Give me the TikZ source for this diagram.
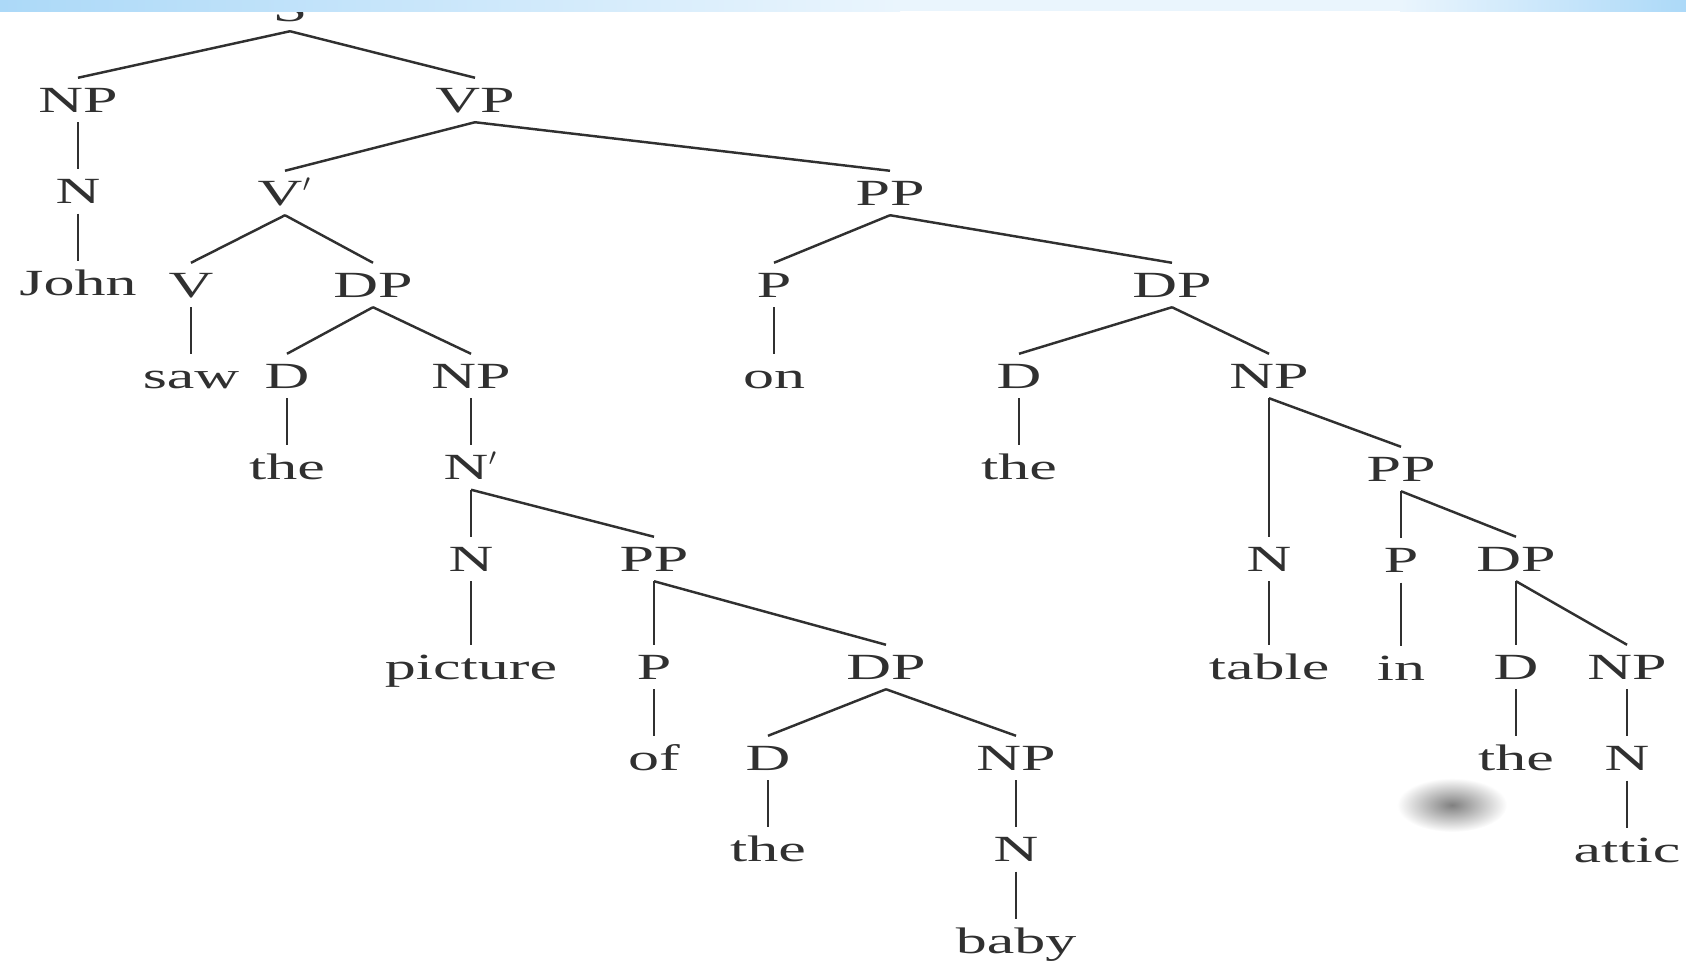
\documentclass[tikz,border=0pt]{standalone}
\usepackage{fontspec}
\setmainfont{Liberation Serif}[FakeStretch=1.68]
\usetikzlibrary{positioning}
\definecolor{ink}{RGB}{48,48,48}
\definecolor{bandblue}{RGB}{172,217,248}
\definecolor{bandpale}{RGB}{234,245,253}

\begin{document}
\begin{tikzpicture}[node distance=0.915cm,color=ink,line width=0.7pt,
		                    cat/.style={inner xsep=0pt,inner ysep=0.09cm,text height=0.24cm,text depth=0pt,font=\fontsize{10.5}{12}\selectfont}]
			\useasboundingbox (0,0) rectangle (16.86,-9.64);
			% Nodes
			  \node[cat] (S) at (2.90,-0.09) {S};
			  \node[cat] (NPa) at (0.78,-1.00) {NP};
			  \node[cat] (Na) [below of = NPa] {N};
			  \node[cat] (John) [below of = Na] {John};
			  \node[cat] (VP) at (4.75,-1.00) {VP};
			  \node[cat] (Vbar) at (2.85,-1.93) {V$'$};
			  \node[cat] (V) at (1.91,-2.85) {V};
			  \node[cat] (saw) [below of = V] {saw};
			  \node[cat] (DPa) at (3.73,-2.85) {DP};
			  \node[cat] (Da) at (2.87,-3.76) {D};
			  \node[cat] (thea) [below of = Da] {the};
			  \node[cat] (NPb) at (4.71,-3.76) {NP};
			  \node[cat] (Nbar) [below of = NPb] {N$'$};
			  \node[cat] (Nb) [below of = Nbar] {N};
			  \node[cat] (picture) [below of = Nb, node distance=1.08cm] {picture};
			  \node[cat] (PPb) at (6.54,-5.59) {PP};
			  \node[cat] (Pb) [below of = PPb, node distance=1.08cm] {P};
			  \node[cat] (of) [below of = Pb] {of};
			  \node[cat] (DPc) at (8.86,-6.67) {DP};
			  \node[cat] (Dc) at (7.68,-7.58) {D};
			  \node[cat] (thec) [below of = Dc] {the};
			  \node[cat] (NPc) at (10.16,-7.58) {NP};
			  \node[cat] (Nc) [below of = NPc] {N};
			  \node[cat] (baby) [below of = Nc] {baby};
			  \node[cat] (PPa) at (8.90,-1.93) {PP};
			  \node[cat] (Pa) at (7.74,-2.85) {P};
			  \node[cat] (on) [below of = Pa] {on};
			  \node[cat] (DPb) at (11.72,-2.85) {DP};
			  \node[cat] (Db) at (10.19,-3.76) {D};
			  \node[cat] (theb) [below of = Db] {the};
			  \node[cat] (NPd) at (12.69,-3.76) {NP};
			  \node[cat] (Nd) at (12.69,-5.59) {N};
			  \node[cat] (table) [below of = Nd, node distance=1.08cm] {table};
			  \node[cat] (PPd) at (14.01,-4.69) {PP};
			  \node[cat] (Pd) [below of = PPd] {P};
			  \node[cat] (in) [below of = Pd, node distance=1.08cm] {in};
			  \node[cat] (DPe) at (15.16,-5.59) {DP};
			  \node[cat] (De) [below of = DPe, node distance=1.08cm] {D};
			  \node[cat] (thee) [below of = De] {the};
			  \node[cat] (NPe) at (16.27,-6.67) {NP};
			  \node[cat] (Ne) [below of = NPe] {N};
			  \node[cat] (attic) [below of = Ne] {attic};

			% Edges
			  \draw (S.south) -- (NPa.north);
			  \draw (S.south) -- (VP.north);
			  \draw (NPa) -- (Na);
			  \draw (Na) -- (John);
			  \draw (VP.south) -- (Vbar.north);
			  \draw (VP.south) -- (PPa.north);
			  \draw (Vbar.south) -- (V.north);
			  \draw (Vbar.south) -- (DPa.north);
			  \draw (V) -- (saw);
			  \draw (DPa.south) -- (Da.north);
			  \draw (DPa.south) -- (NPb.north);
			  \draw (Da) -- (thea);
			  \draw (NPb) -- (Nbar);
			  \draw (Nbar.south) -- (Nb.north);
			  \draw (Nbar.south) -- (PPb.north);
			  \draw (Nb) -- (picture);
			  \draw (PPb.south) -- (Pb.north);
			  \draw (PPb.south) -- (DPc.north);
			  \draw (Pb) -- (of);
			  \draw (DPc.south) -- (Dc.north);
			  \draw (DPc.south) -- (NPc.north);
			  \draw (Dc) -- (thec);
			  \draw (NPc) -- (Nc);
			  \draw (Nc) -- (baby);
			  \draw (PPa.south) -- (Pa.north);
			  \draw (PPa.south) -- (DPb.north);
			  \draw (Pa) -- (on);
			  \draw (DPb.south) -- (Db.north);
			  \draw (DPb.south) -- (NPd.north);
			  \draw (Db) -- (theb);
			  \draw (NPd.south) -- (Nd.north);
			  \draw (NPd.south) -- (PPd.north);
			  \draw (Nd) -- (table);
			  \draw (PPd.south) -- (Pd.north);
			  \draw (PPd.south) -- (DPe.north);
			  \draw (Pd) -- (in);
			  \draw (DPe.south) -- (De.north);
			  \draw (DPe.south) -- (NPe.north);
			  \draw (De) -- (thee);
			  \draw (NPe) -- (Ne);
			  \draw (Ne) -- (attic);

			% Band and blot
			  \shade[left color=bandblue,right color=bandpale] (0,0) rectangle (9,-0.11);
			  \fill[bandpale] (9,0) rectangle (14,-0.11);
			  \shade[left color=bandpale,right color=bandblue] (14,0) rectangle (16.86,-0.11);
			  \shade[inner color=black!50,outer color=white] (14.52,-8.05) ellipse (0.55 and 0.27);
			\end{tikzpicture}
\end{document}
